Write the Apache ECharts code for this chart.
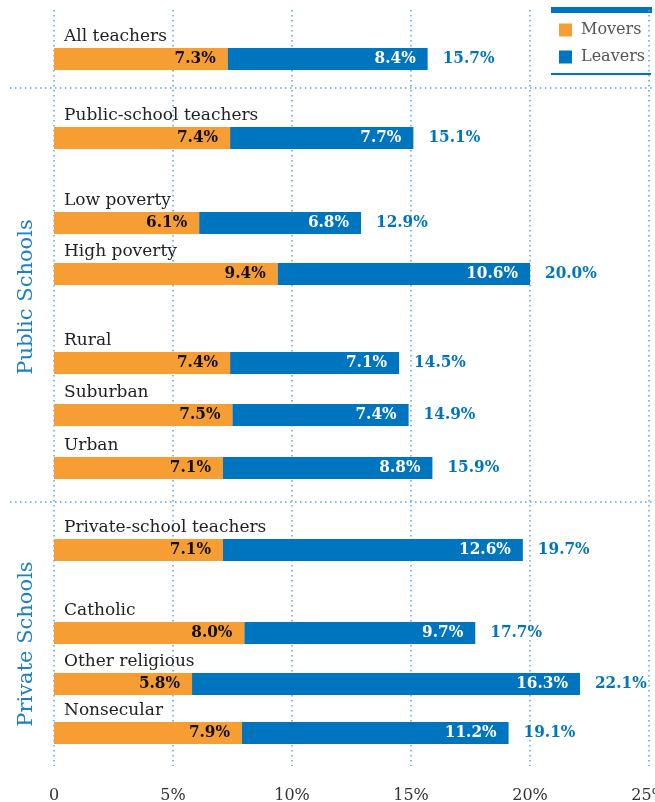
<!DOCTYPE html>
<html>
<head>
<meta charset="utf-8">
<title>Movers and Leavers</title>
<script src="https://cdn.jsdelivr.net/npm/echarts@6/dist/echarts.min.js"></script>
<style>
  html, body { margin: 0; padding: 0; background: #fff; }
  #chart { width: 655px; height: 802px; }
</style>
</head>
<body>
<div id="chart"></div>
<script>
// ========== data ==========
const categories = ["All teachers", "Public-school teachers", "Low poverty", "High poverty", "Rural", "Suburban", "Urban",
  "Private-school teachers", "Catholic", "Other religious", "Nonsecular"];
const movers = [7.3, 7.4, 6.1, 9.4, 7.4, 7.5, 7.1, 7.1, 8.0, 5.8, 7.9];
const leavers = [8.4, 7.7, 6.8, 10.6, 7.1, 7.4, 8.8, 12.6, 9.7, 16.3, 11.2];
const totals = [15.7, 15.1, 12.9, 20.0, 14.5, 14.9, 15.9, 19.7, 17.7, 22.1, 19.1];
const tickLabels = ["0", "5%", "10%", "15%", "20%", "25%"];

// ========== layout ==========
const rowTops = [48, 127, 212, 263, 352, 404, 457, 539, 622, 673, 722];
const ORANGE = "#f69d33";
const BLUE = "#0075bf";
const DOTS = "#5aa6dc";
const FONT = "DejaVu Serif";
const BOLD_FONT = "'DejaVu Serif Condensed', 'DejaVu Serif'";

const chart = echarts.init(document.getElementById("chart"));

const grids = [{ left: 54, right: 6, top: 10, bottom: 36, outerBoundsMode: "none" }];
const xAxes = [{
  gridIndex: 0, type: "value", min: 0, max: 25, interval: 5,
  axisLine: { show: false }, axisTick: { show: false },
  splitLine: { show: true, lineStyle: { color: DOTS, width: 1.5, type: [1.5, 3.5] } },
  axisLabel: {
    margin: 22, color: "#333", fontSize: 16, fontFamily: FONT,
    formatter: (v) => tickLabels[v / 5]
  }
}];
const yAxes = [{ gridIndex: 0, type: "category", data: [""], show: false }];
const series = [];

categories.forEach((name, i) => {
  const g = i + 1;
  grids.push({ left: 54, right: 6, top: rowTops[i], height: 22, outerBoundsMode: "none" });
  xAxes.push({ gridIndex: g, type: "value", min: 0, max: 25, show: false, splitLine: { show: false } });
  yAxes.push({
    gridIndex: g, type: "category", data: [name],
    axisLine: { show: false }, axisTick: { show: false },
    axisLabel: {
      inside: true, margin: 10, verticalAlign: "bottom", padding: [0, 0, 14, 0],
      color: "#222", fontSize: 17, fontFamily: FONT
    }
  });
  const base = { type: "bar", xAxisIndex: g, yAxisIndex: g, stack: "row" + i, barWidth: 22, silent: true };
  series.push({
    ...base, name: "Movers", data: [movers[i]], itemStyle: { color: ORANGE },
    label: {
      show: true, position: "insideRight", distance: 12, color: "#111",
      fontSize: 17, fontWeight: "bold", fontFamily: BOLD_FONT,
      formatter: (p) => p.value.toFixed(1) + "%"
    }
  });
  series.push({
    ...base, name: "Leavers", data: [leavers[i]], itemStyle: { color: BLUE },
    label: {
      show: true, position: "insideRight", distance: 12, color: "#fff",
      fontSize: 17, fontWeight: "bold", fontFamily: BOLD_FONT,
      formatter: (p) => p.value.toFixed(1) + "%"
    }
  });
  // zero-width bar at the end of the stack, carries the total label
  series.push({
    ...base, name: "total", data: [0], itemStyle: { color: "transparent" },
    label: {
      show: true, position: "right", distance: 15, color: BLUE,
      fontSize: 17, fontWeight: "bold", fontFamily: BOLD_FONT,
      formatter: () => totals[i].toFixed(1) + "%"
    }
  });
});

const sep = (y) => ({
  type: "line", shape: { x1: 10, y1: y, x2: 655, y2: y },
  style: { stroke: DOTS, lineWidth: 1.5, lineDash: [1.5, 3.5] }
});
const groupLabel = (text, y) => ({
  type: "text", x: 27, y: y, rotation: Math.PI / 2,
  style: { text: text, fill: "#1b80c4", font: "21px '" + FONT + "'", align: "center", verticalAlign: "middle" }
});

chart.setOption({
  animation: false,
  grid: grids,
  xAxis: xAxes,
  yAxis: yAxes,
  series: series,
  legend: {
    data: ["Movers", "Leavers"],
    orient: "vertical", left: 559, top: 22, padding: 0,
    icon: "rect", itemWidth: 13, itemHeight: 13, itemGap: 11,
    selectedMode: false,
    textStyle: { color: "#555", fontSize: 16, fontFamily: FONT, lineHeight: 16, padding: [0, 0, 0, 4] }
  },
  graphic: [
    { type: "rect", shape: { x: 551, y: 7, width: 101, height: 6 }, style: { fill: BLUE } },
    { type: "rect", shape: { x: 551, y: 73, width: 100, height: 2 }, style: { fill: BLUE } },
    sep(88),
    sep(502),
    groupLabel("Public Schools", 297),
    groupLabel("Private Schools", 644)
  ]
});
</script>
</body>
</html>
